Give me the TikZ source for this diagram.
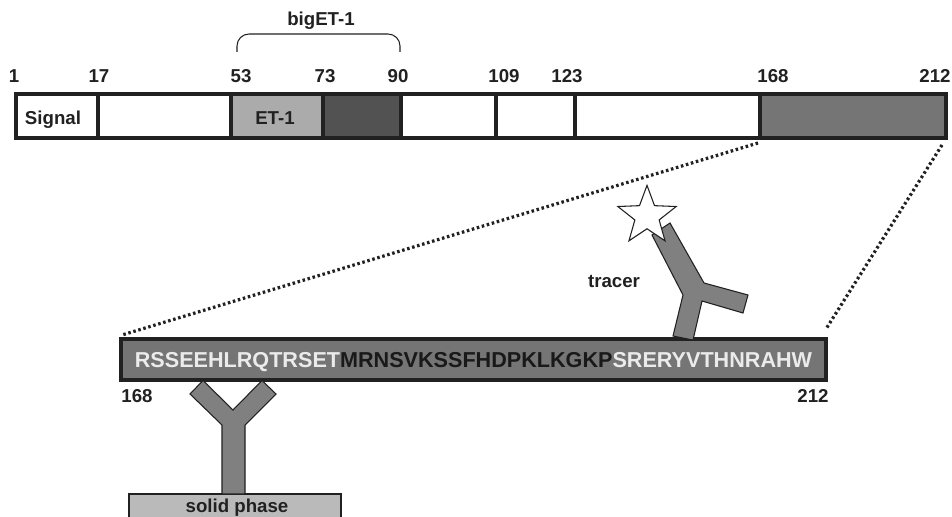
\documentclass[tikz,border=0pt]{standalone}
\usepackage{fontspec}
\setmainfont{Liberation Sans}
\usetikzlibrary{shapes.geometric}
\definecolor{tailgray}{gray}{0.46}
\definecolor{darkseg}{gray}{0.32}
\definecolor{etgray}{gray}{0.67}
\definecolor{solidgray}{gray}{0.73}
\definecolor{abgray}{gray}{0.50}
\definecolor{ink}{gray}{0.13}
\tikzset{
  seg/.style={draw=ink,line width=2.3pt,anchor=north west,minimum height=33pt,inner sep=0pt,outer sep=0pt},
  lab/.style={font=\bfseries\fontsize{14}{16}\selectfont,text=ink,inner sep=0pt,anchor=base},
  zoomline/.style={draw=ink,line width=2.4pt,dash pattern=on 1.9pt off 2pt},
  antibody/.style={draw=ink,line width=0.8pt,fill=abgray,line join=miter},
  brace/.style={draw=ink,line width=0.8pt,rounded corners=9pt},
}
\begin{document}
\begin{tikzpicture}[x=0.75pt,y=-0.75pt]
\clip (0,0) rectangle (952,517);
\fill[white] (0,0) rectangle (952,517);
% main bar
\node[seg,fill=white,minimum width=61.5pt] (s1) at (16,94) {};
\node[seg,fill=white,minimum width=99.75pt] (s2) at (98,94) {};
\node[seg,fill=etgray,minimum width=69pt] (s3) at (231,94) {};
\node[seg,fill=darkseg,minimum width=58.5pt] (s4) at (323,94) {};
\node[seg,fill=white,minimum width=71.25pt] (s5) at (401,94) {};
\node[seg,fill=white,minimum width=59.25pt] (s6) at (496,94) {};
\node[seg,fill=white,minimum width=138.75pt] (s7) at (575,94) {};
\node[seg,fill=tailgray,minimum width=139.5pt] (s8) at (760,94) {};
\node[lab] (tsig) at (53,124) {Signal};
\node[lab] (tet) at (275,124) {ET-1};
% position labels
\node[lab] (n1) at (14,83) {1};
\node[lab] (n17) at (99,83) {17};
\node[lab] (n53) at (241,83) {53};
\node[lab] (n73) at (325,83) {73};
\node[lab] (n90) at (398,83) {90};
\node[lab] (n109) at (504,83) {109};
\node[lab] (n123) at (567,83) {123};
\node[lab] (n168) at (773,83) {168};
\node[lab] (n212) at (935,83) {212};
% bracket
\coordinate (bl) at (237,52);
\coordinate (br) at (400,52);
\draw[brace] (bl) -- (237,34) -- (400,34) -- (br);
\node[lab] (big) at (321,26) {bigET-1};
% peptide bar
\node[draw=ink,line width=2.3pt,fill=tailgray,anchor=north west,minimum width=528.75pt,minimum height=30.75pt,inner sep=0pt,outer sep=0pt] (pep) at (121,339) {};
\node[font=\bfseries\fontsize{16.2}{18}\selectfont,inner sep=0pt,anchor=base] (seq) at (473.5,367) {\textcolor{white!92!black}{RSSEEHLRQTRSET}\textcolor{black!90}{MRNSVKSSFHDPKLKGKP}\textcolor{white!92!black}{SRERYVTHNRAHW}};
\node[lab] (p168) at (137,402) {168};
\node[lab] (p212) at (813,402) {212};
% zoom lines
\coordinate (z1) at (758,143);
\coordinate (z2) at (122,335);
\coordinate (z3) at (942,145);
\coordinate (z4) at (826,329);
\draw[zoomline] (z1) -- (z2);
\draw[zoomline] (z3) -- (z4);
% capture antibody and solid phase
\node[draw=ink,line width=1pt,fill=solidgray,anchor=north west,minimum width=159pt,minimum height=30pt,inner sep=0pt,outer sep=0pt] (solid) at (129,494) {};
\node[lab] (tsolid) at (237,512.5) {solid phase};
\draw[antibody] (222,494) -- (222,425) -- (190,394) -- (203,380.5) -- (233,410) -- (262,380.5) -- (276,394) -- (245,425) -- (245,494) -- cycle;
% tracer antibody and star
\draw[antibody] (673,336) -- (683,295) -- (652,235) -- (670,223) -- (704,283) -- (748,295) -- (743,313) -- (702,301) -- (693,340) -- cycle;
\node[star,star points=5,star point ratio=2.4,draw=ink,line width=0.8pt,fill=white,minimum size=46pt,inner sep=0pt] (st) at (647,216) {};
\node[lab] (tr) at (614,287) {tracer};
\end{tikzpicture}
\end{document}
